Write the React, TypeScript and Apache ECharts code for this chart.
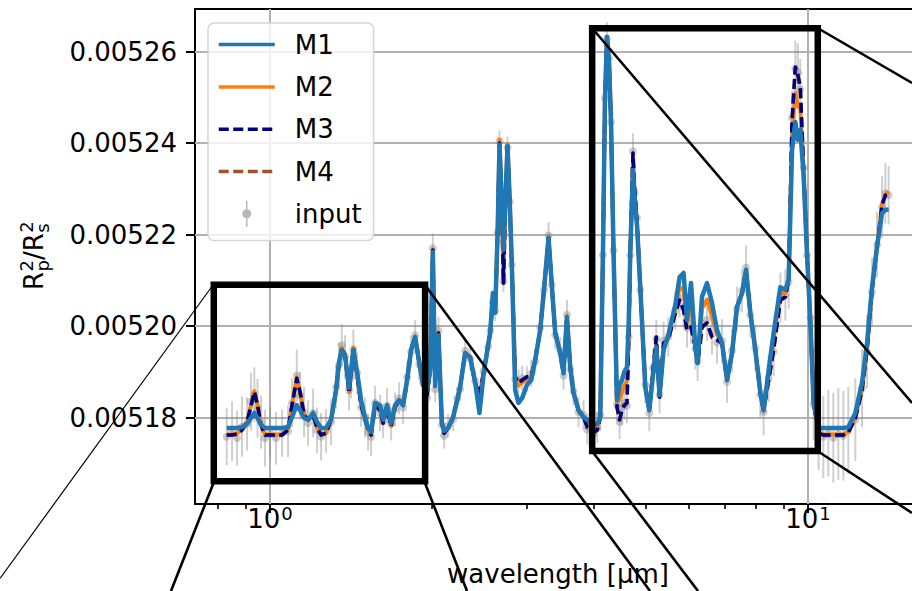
import React, { useEffect, useRef } from 'react';
import * as echarts from 'echarts';

const FONT = 'DejaVu Sans';
const UNIT = 1e-5; // values below are in units of 1e-5

const WAVELENGTH = [
  0.8307, 0.8500, 0.8684, 0.8870, 0.9063, 0.9219, 0.9350, 0.9479, 0.9622, 0.9788,
  1.0000, 1.0260, 1.0527, 1.0801, 1.0988, 1.1212, 1.1372, 1.1568, 1.1768, 1.2023,
  1.2231, 1.2442, 1.2711, 1.2986, 1.3267, 1.3438, 1.3595, 1.3788, 1.4026, 1.4147,
  1.4287, 1.4516, 1.4766, 1.5021, 1.5215, 1.5412, 1.5678, 1.6017, 1.6224, 1.6505,
  1.6790, 1.7080, 1.7375, 1.7675, 1.7981, 1.8292, 1.8608, 1.8930, 1.9257, 1.9590,
  1.9843, 2.0074, 2.0273, 2.0562, 2.0863, 2.1070, 2.1434, 2.1898, 2.2276, 2.2564,
  2.3052, 2.3551, 2.4061, 2.4508, 2.4932, 2.5439, 2.5658, 2.5956, 2.6214, 2.6495,
  2.6700, 2.6953, 2.7161, 2.7395, 2.7631, 2.7892, 2.8157, 2.8557, 2.8964, 2.9427,
  3.0025, 3.0583, 3.1112, 3.1785, 3.2335, 3.2936, 3.3419, 3.3893, 3.4627, 3.5120,
  3.5636, 3.6142, 3.6656, 3.7450, 3.8260, 3.8872, 3.9375, 3.9936, 4.0574, 4.1099,
  4.1577, 4.1935, 4.2295, 4.2659, 4.3026, 4.3508, 4.4146, 4.4641, 4.5102, 4.5549,
  4.6078, 4.6434, 4.6733, 4.7276, 4.7642, 4.8092, 4.8778, 4.9834, 5.0694, 5.1505,
  5.2238, 5.2981, 5.3896, 5.4991, 5.6665, 5.7718, 5.8716, 5.9577, 6.0607, 6.1734,
  6.2346, 6.3531, 6.4906, 6.6311, 6.7746, 6.9212, 7.0711, 7.2241, 7.3805, 7.5402,
  7.6704, 7.8128, 7.9819, 8.1546, 8.2709, 8.4499, 8.6328, 8.8841, 9.0764, 9.2056,
  9.3404, 9.4732, 9.5751, 9.6757, 9.8137, 9.9575, 10.099, 10.243, 10.465, 10.678,
  10.909, 11.145, 11.386, 11.633, 11.884, 12.246, 12.602, 12.875, 13.153, 13.438, 13.729, 13.925, 14.123,
];

const INPUT = [
  517.58, 517.70, 517.55, 517.80, 517.86, 518.35, 518.50, 518.20, 517.90, 517.55,
  517.68, 517.55, 517.66, 517.70, 518.32, 518.92, 518.48, 518.12, 517.88, 518.10,
  517.72, 517.58, 517.70, 517.90, 518.66, 519.15, 519.58, 519.32, 518.60, 518.88,
  519.48, 518.98, 518.22, 518.00, 517.68, 517.58, 518.32, 518.10, 517.92, 518.26,
  517.86, 518.18, 518.42, 518.22, 518.88, 519.44, 519.80, 519.16, 518.76, 518.44,
  519.10, 521.70, 518.62, 519.90, 517.84, 517.60, 517.82, 517.96, 518.42, 518.62,
  519.46, 519.28, 518.80, 518.44, 519.02, 519.55, 519.90, 520.52, 520.34, 522.05,
  524.04, 522.70, 520.98, 522.80, 523.90, 522.72, 521.34, 518.84, 518.80, 518.86,
  518.84, 518.96, 519.22, 519.96, 520.80, 521.98, 520.90, 519.80, 519.46, 518.92,
  520.25, 519.05, 518.58, 518.12, 518.06, 517.74, 517.80, 517.64, 517.78, 518.06,
  521.55, 524.98, 526.28, 525.86, 524.46, 521.65, 518.28, 517.90, 518.22, 518.32,
  518.26, 519.76, 521.55, 523.82, 522.92, 522.37, 520.80, 518.72, 518.10, 519.08,
  519.72, 518.50, 519.68, 519.76, 520.34, 520.62, 520.42, 519.96, 520.05, 519.50,
  519.24, 520.06, 520.14, 519.82, 519.64, 519.68, 518.78, 519.46, 520.38, 520.77,
  521.28, 520.24, 519.52, 518.50, 518.12, 518.86, 519.44, 520.62, 520.68, 520.96,
  524.55, 525.62, 525.54, 525.18, 523.46, 521.55, 520.18, 518.28, 517.70, 517.58,
  517.66, 517.56, 517.64, 517.60, 517.72, 517.95, 518.64, 519.44, 520.74, 521.78, 522.60, 522.90, 522.86,
];

const INPUT_ERR = [
  0.62, 0.65, 0.60, 0.66, 0.58, 0.63, 0.60, 0.64, 0.58, 0.62,
  0.55, 0.58, 0.52, 0.56, 0.54, 0.57, 0.52, 0.55, 0.50, 0.53,
  0.50, 0.52, 0.48, 0.50, 0.47, 0.49, 0.46, 0.48, 0.45, 0.46,
  0.44, 0.45, 0.42, 0.44, 0.40, 0.42, 0.38, 0.40, 0.37, 0.38,
  0.36, 0.37, 0.35, 0.36, 0.34, 0.35, 0.33, 0.34, 0.32, 0.33,
  0.30, 0.32, 0.28, 0.30, 0.26, 0.28, 0.25, 0.26, 0.24, 0.25,
  0.24, 0.25, 0.23, 0.24, 0.23, 0.24, 0.23, 0.24, 0.23, 0.24,
  0.24, 0.25, 0.24, 0.25, 0.24, 0.25, 0.26, 0.27, 0.26, 0.27,
  0.28, 0.29, 0.28, 0.29, 0.30, 0.29, 0.30, 0.31, 0.30, 0.31,
  0.32, 0.31, 0.32, 0.33, 0.32, 0.33, 0.34, 0.33, 0.34, 0.35,
  0.34, 0.35, 0.36, 0.35, 0.36, 0.37, 0.36, 0.37, 0.38, 0.37,
  0.38, 0.39, 0.38, 0.39, 0.40, 0.39, 0.40, 0.41, 0.40, 0.41,
  0.42, 0.41, 0.42, 0.43, 0.42, 0.43, 0.44, 0.43, 0.44, 0.45,
  0.44, 0.45, 0.46, 0.45, 0.46, 0.47, 0.46, 0.47, 0.48, 0.47,
  0.48, 0.49, 0.50, 0.49, 0.51, 0.52, 0.53, 0.55, 0.56, 0.58,
  0.60, 0.62, 0.64, 0.66, 0.68, 0.70, 0.74, 0.78, 0.85, 0.90,
  0.95, 0.98, 1.00, 0.98, 0.95, 0.90, 0.85, 0.80, 0.75, 0.72, 0.68, 0.66, 0.64,
];

const M1 = [
  517.77, 517.77, 517.77, 517.79, 517.86, 517.99, 518.10, 517.99, 517.84, 517.77,
  517.77, 517.77, 517.77, 517.79, 518.01, 518.27, 518.16, 517.99, 517.95, 518.10,
  517.90, 517.77, 517.77, 517.95, 518.60, 519.21, 519.48, 519.35, 518.65, 519.04,
  519.48, 519.00, 518.38, 517.99, 517.77, 517.68, 518.32, 518.27, 517.95, 518.27,
  517.88, 518.27, 518.38, 518.27, 518.82, 519.48, 519.76, 519.21, 518.71, 518.60,
  519.04, 521.62, 518.69, 519.80, 517.88, 517.71, 517.77, 518.01, 518.38, 518.67,
  519.41, 519.32, 518.76, 518.10, 518.93, 519.59, 519.85, 520.72, 520.29, 522.10,
  523.96, 522.76, 521.66, 522.76, 523.94, 522.76, 521.29, 518.60, 518.32, 518.43,
  518.71, 518.82, 519.26, 519.91, 520.85, 521.93, 520.85, 519.85, 519.41, 518.97,
  520.20, 519.10, 518.54, 518.16, 518.01, 517.95, 517.90, 517.86, 517.86, 518.01,
  521.60, 524.94, 526.32, 525.82, 524.50, 521.60, 518.38, 518.71, 518.82, 519.00,
  519.10, 520.13, 521.60, 523.41, 522.76, 522.21, 520.85, 518.67, 518.16, 518.93,
  519.54, 518.49, 519.48, 519.80, 520.46, 521.07, 521.16, 520.13, 520.94, 519.54,
  519.19, 520.64, 520.94, 520.50, 519.91, 519.63, 518.82, 519.41, 520.42, 520.72,
  521.23, 520.29, 519.48, 518.54, 518.16, 519.04, 519.85, 520.85, 520.79, 521.01,
  523.85, 524.46, 524.07, 524.29, 523.30, 521.60, 520.13, 518.32, 517.77, 517.77,
  517.77, 517.77, 517.77, 517.77, 517.79, 518.10, 518.76, 519.63, 520.85, 521.73, 522.47, 522.54, 522.54,
];

const M2 = [
  517.63, 517.63, 517.65, 517.74, 517.91, 518.28, 518.58, 518.28, 517.85, 517.63,
  517.63, 517.63, 517.63, 517.74, 518.28, 518.88, 518.57, 518.07, 517.96, 518.07,
  517.78, 517.63, 517.67, 517.96, 518.61, 519.22, 519.53, 519.38, 518.55, 518.94,
  519.53, 518.94, 518.28, 517.96, 517.74, 517.63, 518.28, 518.18, 517.89, 518.22,
  517.82, 518.24, 518.39, 518.28, 518.83, 519.49, 519.77, 519.22, 518.72, 518.50,
  519.05, 521.68, 518.70, 519.86, 517.89, 517.67, 517.78, 518.02, 518.39, 518.68,
  519.42, 519.33, 518.77, 518.50, 518.98, 519.60, 519.86, 520.62, 520.30, 522.12,
  524.07, 522.78, 520.96, 522.78, 523.98, 522.78, 521.30, 518.90, 518.70, 518.76,
  518.86, 518.90, 519.27, 519.92, 520.86, 521.95, 520.86, 519.86, 519.42, 518.98,
  520.22, 519.11, 518.55, 518.17, 518.02, 517.82, 517.80, 517.72, 517.76, 518.02,
  521.61, 524.95, 526.33, 525.83, 524.51, 521.61, 518.32, 518.40, 518.55, 518.70,
  518.80, 519.95, 521.60, 523.60, 522.85, 522.27, 520.85, 518.67, 518.16, 519.00,
  519.62, 518.47, 519.55, 519.76, 520.40, 520.85, 520.80, 520.05, 520.55, 519.54,
  519.19, 520.38, 520.58, 520.20, 519.82, 519.63, 518.82, 519.41, 520.42, 520.72,
  521.23, 520.29, 519.48, 518.54, 518.16, 518.95, 519.70, 520.72, 520.72, 521.01,
  524.20, 525.10, 524.80, 524.75, 523.35, 521.60, 520.13, 518.32, 517.67, 517.63,
  517.63, 517.63, 517.63, 517.63, 517.69, 518.00, 518.62, 519.50, 520.80, 521.75, 522.67, 522.88, 522.94,
];

const M3 = [
  517.62, 517.62, 517.64, 517.73, 517.90, 518.27, 518.56, 518.27, 517.84, 517.62,
  517.62, 517.62, 517.62, 517.73, 518.27, 518.86, 518.56, 518.06, 517.95, 518.06,
  517.77, 517.62, 517.66, 517.95, 518.60, 519.21, 519.52, 519.37, 518.54, 518.93,
  519.52, 518.93, 518.27, 517.95, 517.73, 517.62, 518.27, 518.16, 517.88, 518.21,
  517.81, 518.23, 518.38, 518.27, 518.82, 519.48, 519.76, 519.21, 518.71, 518.49,
  519.04, 521.66, 518.69, 519.85, 517.88, 517.66, 517.77, 518.01, 518.38, 518.67,
  519.41, 519.32, 518.76, 518.49, 518.97, 519.59, 519.85, 520.57, 520.29, 522.10,
  524.00, 522.76, 520.94, 522.76, 523.94, 522.76, 521.29, 518.89, 518.76, 518.82,
  518.89, 518.91, 519.26, 519.91, 520.85, 521.93, 520.85, 519.85, 519.41, 518.97,
  520.20, 519.10, 518.54, 518.16, 518.01, 517.79, 517.77, 517.68, 517.73, 518.01,
  521.60, 524.94, 526.32, 525.82, 524.50, 521.60, 518.23, 517.95, 518.16, 518.27,
  518.32, 519.70, 521.60, 523.78, 522.97, 522.32, 520.85, 518.67, 518.16, 519.04,
  519.76, 518.45, 519.63, 519.70, 520.29, 520.57, 520.35, 519.91, 519.98, 519.54,
  519.19, 519.98, 520.07, 519.76, 519.70, 519.63, 518.82, 519.41, 520.42, 520.72,
  521.23, 520.29, 519.48, 518.54, 518.16, 518.82, 519.48, 520.57, 520.64, 521.01,
  524.50, 525.66, 525.49, 525.23, 523.41, 521.60, 520.13, 518.32, 517.66, 517.62,
  517.62, 517.62, 517.62, 517.62, 517.68, 517.99, 518.60, 519.48, 520.79, 521.73, 522.65, 522.86, 522.91,
];

const M4 = [
  517.61, 517.62, 517.63, 517.72, 517.89, 518.26, 518.55, 518.26, 517.83, 517.61,
  517.61, 517.61, 517.61, 517.72, 518.26, 518.85, 518.55, 518.05, 517.94, 518.05,
  517.76, 517.61, 517.65, 517.94, 518.59, 519.20, 519.51, 519.36, 518.53, 518.92,
  519.51, 518.92, 518.26, 517.94, 517.72, 517.61, 518.26, 518.15, 517.87, 518.20,
  517.80, 518.22, 518.37, 518.26, 518.81, 519.47, 519.75, 519.20, 518.70, 518.48,
  519.03, 521.65, 518.68, 519.84, 517.87, 517.65, 517.76, 518.00, 518.37, 518.66,
  519.40, 519.31, 518.75, 518.48, 518.96, 519.58, 519.84, 520.56, 520.28, 522.09,
  523.99, 522.75, 520.93, 522.75, 523.93, 522.75, 521.28, 518.88, 518.75, 518.81,
  518.88, 518.90, 519.25, 519.90, 520.84, 521.92, 520.84, 519.84, 519.40, 518.96,
  520.19, 519.09, 518.53, 518.15, 518.00, 517.78, 517.76, 517.67, 517.72, 518.00,
  521.59, 524.93, 526.31, 525.81, 524.49, 521.59, 518.22, 517.94, 518.15, 518.26,
  518.31, 519.69, 521.59, 523.77, 522.96, 522.31, 520.84, 518.66, 518.15, 519.03,
  519.75, 518.44, 519.62, 519.69, 520.28, 520.56, 520.34, 519.90, 519.97, 519.53,
  519.18, 519.97, 520.06, 519.75, 519.69, 519.62, 518.81, 519.40, 520.41, 520.71,
  521.22, 520.28, 519.47, 518.53, 518.15, 518.81, 519.47, 520.56, 520.63, 521.00,
  524.49, 525.65, 525.48, 525.22, 523.40, 521.59, 520.12, 518.31, 517.65, 517.61,
  517.61, 517.61, 517.61, 517.61, 517.67, 517.98, 518.59, 519.47, 520.78, 521.72, 522.64, 522.85, 522.90,
];

const X_RANGE = [0.7253, 16.22];
const Y_RANGE = [516.11, 526.93];
const X_MAJOR_TICKS = [1, 10];
const X_MINOR_TICKS = [0.8, 0.9, 2, 3, 4, 5, 6, 7, 8, 9];
const Y_TICKS = [518, 520, 522, 524, 526];
const ZOOM_BOXES = [
  { x: [0.786, 1.942], y: [516.61, 520.9] },
  { x: [3.97, 10.428], y: [517.27, 526.51] },
];

// connector lines of the zoom indicators (figure pixels): [x1, y1, x2, y2, width]
const CONNECTORS = [
  [213, 285, 0, 578.5, 1.2],
  [213.5, 483, 171, 591, 2.6],
  [425, 483, 467, 591, 2.6],
  [425, 285, 650, 591, 2.6],
  [592, 451, 698, 591, 2.6],
  [592, 28, 912, 403, 2.6],
  [817.5, 28, 912, 83, 2.6],
  [817.5, 451, 912, 513, 2.6],
];

const toPairs = (vals: number[]) => WAVELENGTH.map((w, i) => [w, +(vals[i] * UNIT).toFixed(9)]);

export default function App() {
  const ref = useRef<HTMLDivElement>(null);

  useEffect(() => {
    if (!ref.current) return;
    const chart = echarts.init(ref.current, null, { renderer: 'svg' });
    const yTickVals = Y_TICKS.map((v) => +(v * UNIT).toFixed(9));

    const lineSeries = (name: string, vals: number[], color: string, width: number, type: any, z: number) => ({
      name,
      type: 'line',
      data: toPairs(vals),
      symbol: 'none',
      showSymbol: false,
      lineStyle: { color, width, type, cap: 'butt', join: 'round' },
      itemStyle: { color },
      z,
      silent: true,
      emphasis: { disabled: true },
    });

    const boxSeries = ZOOM_BOXES.map((b, i) => ({
      name: 'zoom' + (i + 1),
      type: 'line',
      data: [
        [b.x[0], b.y[0] * UNIT],
        [b.x[1], b.y[0] * UNIT],
        [b.x[1], b.y[1] * UNIT],
        [b.x[0], b.y[1] * UNIT],
        [b.x[0], b.y[0] * UNIT],
      ],
      symbol: 'none',
      lineStyle: { color: '#000', width: 6.5, join: 'miter', cap: 'square' },
      z: 8,
      silent: true,
      clip: false,
      emphasis: { disabled: true },
    }));

    const yLabelStyle = (text: string, size: number) => ({
      text,
      fontSize: size,
      fontFamily: FONT,
      fill: '#000',
      align: 'left',
      verticalAlign: 'middle',
    });

    const option: any = {
      animation: false,
      textStyle: { fontFamily: FONT },
      grid: {
        left: 195,
        top: 9,
        width: 726,
        height: 495,
        show: true,
        borderColor: '#000',
        borderWidth: 2,
        backgroundColor: 'transparent',
        containLabel: false,
        outerBoundsMode: 'none',
      },
      xAxis: [
        {
          type: 'log',
          logBase: 10,
          min: X_RANGE[0],
          max: X_RANGE[1],
          axisLine: { show: false },
          axisTick: { show: true, customValues: X_MAJOR_TICKS, length: 9, lineStyle: { color: '#000', width: 2 } },
          axisLabel: {
            customValues: X_MAJOR_TICKS,
            formatter: (v: number) => '{b|10}{s|' + Math.round(Math.log10(v)) + '}',
            fontSize: 26,
            fontFamily: FONT,
            color: '#000',
            margin: 0,
            rich: {
              b: { fontSize: 26, fontFamily: FONT, color: '#000' },
              s: { fontSize: 18, fontFamily: FONT, color: '#000', padding: [0, 0, 12, 1] },
            },
          },
          splitLine: { show: true, lineStyle: { color: '#b0b0b0', width: 2 } },
          name: 'wavelength [μm]',
          nameLocation: 'middle',
          nameGap: 57,
          nameTextStyle: { fontSize: 26, fontFamily: FONT, color: '#000' },
        },
        {
          type: 'log',
          logBase: 10,
          min: X_RANGE[0],
          max: X_RANGE[1],
          position: 'bottom',
          axisLine: { show: false },
          axisLabel: { show: false },
          splitLine: { show: false },
          axisTick: { show: true, customValues: X_MINOR_TICKS, length: 5, lineStyle: { color: '#000', width: 1.6 } },
        },
      ],
      yAxis: {
        type: 'value',
        min: Y_RANGE[0] * UNIT,
        max: Y_RANGE[1] * UNIT,
        axisLine: { show: false },
        axisTick: { show: true, customValues: yTickVals, length: 9, lineStyle: { color: '#000', width: 2 } },
        axisLabel: {
          customValues: yTickVals,
          formatter: (v: number) => v.toFixed(5),
          fontSize: 26,
          fontFamily: FONT,
          color: '#000',
          margin: 18,
        },
        splitLine: { show: true, lineStyle: { color: '#b0b0b0', width: 2 } },
      },
      legend: {
        show: true,
        orient: 'vertical',
        left: 208,
        top: 23,
        itemWidth: 56,
        itemHeight: 26,
        itemGap: 16.3,
        padding: [8.6, 12, 13.7, 9],
        backgroundColor: 'rgba(255,255,255,0.8)',
        borderColor: 'rgba(204,204,204,0.8)',
        borderWidth: 1.5,
        borderRadius: 6,
        selectedMode: false,
        textStyle: { fontSize: 26, fontFamily: FONT, color: '#000', padding: [0, 0, 0, 15] },
        itemStyle: { color: 'transparent', borderWidth: 0 },
        lineStyle: { width: 3.5 },
        data: [
          { name: 'M1' },
          { name: 'M2' },
          { name: 'M3' },
          { name: 'M4' },
          {
            name: 'input',
            icon: 'path://M3.25,0 h1.5 v26 h-1.5 Z M8.5,13 A4.5,4.5 0 1 1 -0.5,13 A4.5,4.5 0 1 1 8.5,13 Z',
            itemStyle: { color: 'rgba(150,150,150,0.85)' },
          },
        ],
      },
      series: [
        {
          name: 'input-err',
          type: 'custom',
          data: WAVELENGTH.map((w, i) => [w, INPUT[i] * UNIT, INPUT_ERR[i] * UNIT]),
          encode: { x: 0, y: 1 },
          z: 1,
          silent: true,
          renderItem: (params: any, api: any) => {
            const x = api.value(0);
            const v = api.value(1);
            const e = api.value(2);
            const top = api.coord([x, v + e]);
            const bot = api.coord([x, v - e]);
            return {
              type: 'line',
              shape: { x1: top[0], y1: top[1], x2: bot[0], y2: bot[1] },
              style: { stroke: 'rgba(128,128,128,0.38)', lineWidth: 2 },
            };
          },
        },
        {
          name: 'input',
          type: 'scatter',
          data: toPairs(INPUT),
          symbol: 'circle',
          symbolSize: 8,
          itemStyle: { color: 'rgba(128,128,128,0.5)' },
          z: 1,
          silent: true,
          emphasis: { disabled: true },
        },
        lineSeries('M2', M2, '#ff7f0e', 4, 'solid', 2),
        lineSeries('M4', M4, '#a0522d', 3.5, [10, 4.5], 2),
        lineSeries('M3', M3, '#000080', 3.5, [10, 4.5], 2),
        lineSeries('M1', M1, '#1f77b4', 4.5, 'solid', 3),
        ...boxSeries,
      ],
      graphic: [
        ...CONNECTORS.map((c) => ({
          type: 'line',
          z: 100,
          silent: true,
          shape: { x1: c[0], y1: c[1], x2: c[2], y2: c[3] },
          style: { stroke: '#000', lineWidth: c[4] },
        })),
        {
          type: 'group',
          x: 34,
          y: 290,
          rotation: Math.PI / 2,
          silent: true,
          children: [
            { type: 'text', x: 0, y: 0, style: yLabelStyle('R', 26) },
            { type: 'text', x: 18.5, y: -7.5, style: yLabelStyle('2', 18) },
            { type: 'text', x: 18.5, y: 8, style: yLabelStyle('p', 18) },
            { type: 'text', x: 30, y: 0, style: yLabelStyle('/', 26) },
            { type: 'text', x: 38.8, y: 0, style: yLabelStyle('R', 26) },
            { type: 'text', x: 57.3, y: -7.5, style: yLabelStyle('2', 18) },
            { type: 'text', x: 57.3, y: 8, style: yLabelStyle('s', 18) },
          ],
        },
      ],
    };

    chart.setOption(option);
    return () => chart.dispose();
  }, []);

  return (
    <div
      ref={ref}
      style={{ position: 'fixed', left: 0, top: 0, width: 912, height: 591, background: '#fff' }}
    />
  );
}
